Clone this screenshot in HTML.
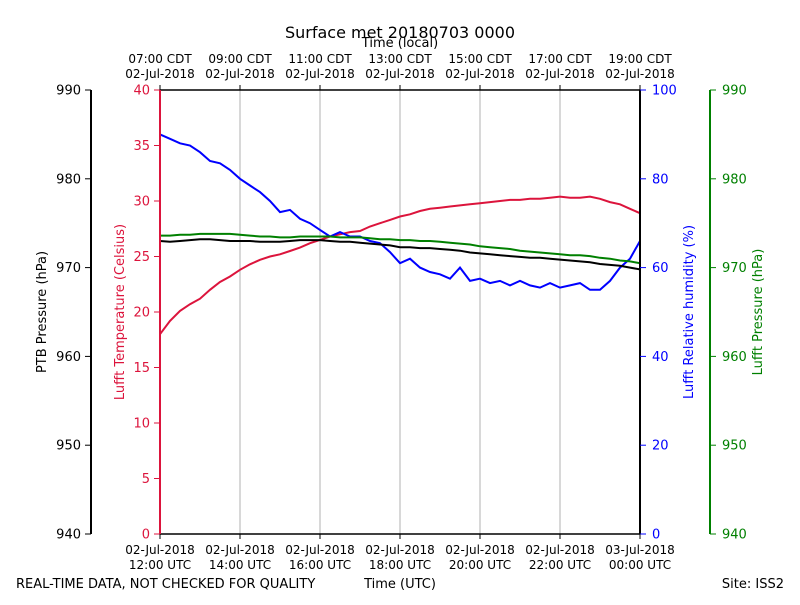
<!DOCTYPE html>
<html><head><meta charset="utf-8"><style>
body{margin:0;background:#fff;font-family:"Liberation Sans","DejaVu Sans",sans-serif}
svg text{font-family:"DejaVu Sans","Liberation Sans",sans-serif}
</style></head><body>
<svg id="c" width="800" height="600" xmlns="http://www.w3.org/2000/svg"></svg>
<script>
const hours=[12,12.25,12.5,12.75,13,13.25,13.5,13.75,14,14.25,14.5,14.75,15,15.25,15.5,15.75,16,16.25,16.5,16.75,17,17.25,17.5,17.75,18,18.25,18.5,18.75,19,19.25,19.5,19.75,20,20.25,20.5,20.75,21,21.25,21.5,21.75,22,22.25,22.5,22.75,23,23.25,23.5,23.75,24];
const tempC=[18,19.2,20.1,20.7,21.2,22,22.7,23.2,23.8,24.3,24.7,25,25.2,25.5,25.8,26.2,26.5,26.8,27,27.2,27.3,27.7,28,28.3,28.6,28.8,29.1,29.3,29.4,29.5,29.6,29.7,29.8,29.9,30,30.1,30.1,30.2,30.2,30.3,30.4,30.3,30.3,30.4,30.2,29.9,29.7,29.3,28.9];
const humidity=[90,89,88,87.5,86,84,83.5,82,80,78.5,77,75,72.5,73,71,70,68.5,67,68,67,67,66,65.5,63.5,61,62,60,59,58.5,57.5,60,57,57.5,56.5,57,56,57,56,55.5,56.5,55.5,56,56.5,55,55,57,60,62,66];
const ptb=[973,972.9,973,973.1,973.2,973.2,973.1,973,973,973,972.9,972.9,972.9,973,973.1,973.1,973.1,973,972.9,972.9,972.8,972.7,972.6,972.5,972.3,972.3,972.2,972.2,972.1,972,971.9,971.7,971.6,971.5,971.4,971.3,971.2,971.1,971.1,971,970.9,970.8,970.7,970.6,970.4,970.3,970.2,970,969.8];
const lufftP=[973.6,973.6,973.7,973.7,973.8,973.8,973.8,973.8,973.7,973.6,973.5,973.5,973.4,973.4,973.5,973.5,973.5,973.5,973.4,973.4,973.4,973.3,973.2,973.2,973.1,973.1,973,973,972.9,972.8,972.7,972.6,972.4,972.3,972.2,972.1,971.9,971.8,971.7,971.6,971.5,971.4,971.4,971.3,971.1,971,970.8,970.7,970.5];
const pTicks=[940,950,960,970,980,990];
const tTicks=[0,5,10,15,20,25,30,35,40];
const hTicks=[0,20,40,60,80,100];
const utcLabels=["12:00 UTC","14:00 UTC","16:00 UTC","18:00 UTC","20:00 UTC","22:00 UTC","00:00 UTC"];
const utcDates=["02-Jul-2018","02-Jul-2018","02-Jul-2018","02-Jul-2018","02-Jul-2018","02-Jul-2018","03-Jul-2018"];
const cdtLabels=["07:00 CDT","09:00 CDT","11:00 CDT","13:00 CDT","15:00 CDT","17:00 CDT","19:00 CDT"];
const tickHours=[12,14,16,18,20,22,24];

const L=160,R=640,T=90,B=534;
const X=h=>L+(h-12)/12*(R-L);
const YP=p=>B-(p-940)/50*(B-T);
const YT=t=>B-t/40*(B-T);
const YH=v=>B-v/100*(B-T);
const svg=document.getElementById('c');
const NS="http://www.w3.org/2000/svg";
function el(tag,attrs,name,txt){const e=document.createElementNS(NS,tag);for(const k in attrs)e.setAttribute(k,attrs[k]);


if(txt!==undefined)e.textContent=txt;svg.appendChild(e);return e;}

// grid
tickHours.forEach((h,i)=>{if(i>0&&i<6)el('line',{x1:X(h),x2:X(h),y1:T,y2:B,stroke:'#b0b0b0','stroke-width':1},'grid-line');});
// series
function path(arr,yf,color,name){el('path',{d:arr.map((v,i)=>(i?'L':'M')+X(hours[i]).toFixed(1)+','+yf(v).toFixed(1)).join(''),fill:'none',stroke:color,'stroke-width':2},name);}
path(tempC,YT,'#dc143c','temperature-line');
path(humidity,YH,'#0000ff','humidity-line');
path(ptb,YP,'#000','ptb-pressure-line');
path(lufftP,YP,'#008000','lufft-pressure-line');
// frame
el('line',{x1:L,x2:R,y1:T,y2:T,stroke:'#000','stroke-width':1.5},'top-axis');
el('line',{x1:L,x2:R,y1:B,y2:B,stroke:'#000','stroke-width':1.5},'bottom-axis');
el('line',{x1:L,x2:L,y1:T,y2:B,stroke:'#dc143c','stroke-width':2},'temperature-axis');
el('line',{x1:R,x2:R,y1:T,y2:B,stroke:'#000','stroke-width':2},'humidity-axis');
el('line',{x1:91,x2:91,y1:T,y2:B,stroke:'#000','stroke-width':2},'ptb-pressure-axis');
el('line',{x1:710,x2:710,y1:T,y2:B,stroke:'#008000','stroke-width':2},'lufft-pressure-axis');
// ticks
pTicks.forEach(p=>{el('line',{x1:85,x2:91,y1:YP(p),y2:YP(p),stroke:'#000'},'ptb-tick');el('text',{x:81,y:YP(p)+4.5,'text-anchor':'end','font-size':13},'ptb-tick-label',p);
el('line',{x1:710,x2:716,y1:YP(p),y2:YP(p),stroke:'#008000'},'lufft-p-tick');el('text',{x:722,y:YP(p)+4.5,'font-size':13,fill:'#008000'},'lufft-p-tick-label',p);});
tTicks.forEach(t=>{el('line',{x1:154,x2:160,y1:YT(t),y2:YT(t),stroke:'#dc143c'},'temp-tick');el('text',{x:150,y:YT(t)+4.5,'text-anchor':'end','font-size':13,fill:'#dc143c'},'temp-tick-label',t);});
hTicks.forEach(v=>{el('line',{x1:640,x2:646,y1:YH(v),y2:YH(v),stroke:'#0000ff'},'humidity-tick');el('text',{x:652,y:YH(v)+4.5,'font-size':13,fill:'#0000ff'},'humidity-tick-label',v);});
tickHours.forEach((h,i)=>{const x=X(h);
el('line',{x1:x,x2:x,y1:B,y2:B+5,stroke:'#000'},'time-tick');
el('line',{x1:x,x2:x,y1:T-5,y2:T,stroke:'#000'},'local-time-tick');
el('text',{x:x,y:554,'text-anchor':'middle','font-size':12},'utc-date-label',utcDates[i]);
el('text',{x:x,y:569,'text-anchor':'middle','font-size':12},'utc-time-label',utcLabels[i]);
el('text',{x:x,y:63,'text-anchor':'middle','font-size':12},'local-time-label',cdtLabels[i]);
el('text',{x:x,y:78,'text-anchor':'middle','font-size':12},'local-date-label','02-Jul-2018');});
// titles
el('text',{x:400,y:38,'text-anchor':'middle','font-size':16},'chart-title','Surface met 20180703 0000');
el('text',{x:400,y:47,'text-anchor':'middle','font-size':13},'top-axis-title','Time (local)');
el('text',{x:400,y:588,'text-anchor':'middle','font-size':13},'x-axis-title','Time (UTC)');
el('text',{x:16,y:588,'font-size':13},'quality-note','REAL-TIME DATA, NOT CHECKED FOR QUALITY');
el('text',{x:784,y:588,'text-anchor':'end','font-size':13},'site-label','Site: ISS2');
el('text',{transform:'translate(46,312) rotate(-90)','text-anchor':'middle','font-size':13},'ptb-axis-title','PTB Pressure (hPa)');
el('text',{transform:'translate(124,312) rotate(-90)','text-anchor':'middle','font-size':13,fill:'#dc143c'},'temperature-axis-title','Lufft Temperature (Celsius)');
el('text',{transform:'translate(693,312) rotate(-90)','text-anchor':'middle','font-size':13,fill:'#0000ff'},'humidity-axis-title','Lufft Relative humidity (%)');
el('text',{transform:'translate(762,312) rotate(-90)','text-anchor':'middle','font-size':13,fill:'#008000'},'lufft-pressure-axis-title','Lufft Pressure (hPa)');
</script>
</body></html>
